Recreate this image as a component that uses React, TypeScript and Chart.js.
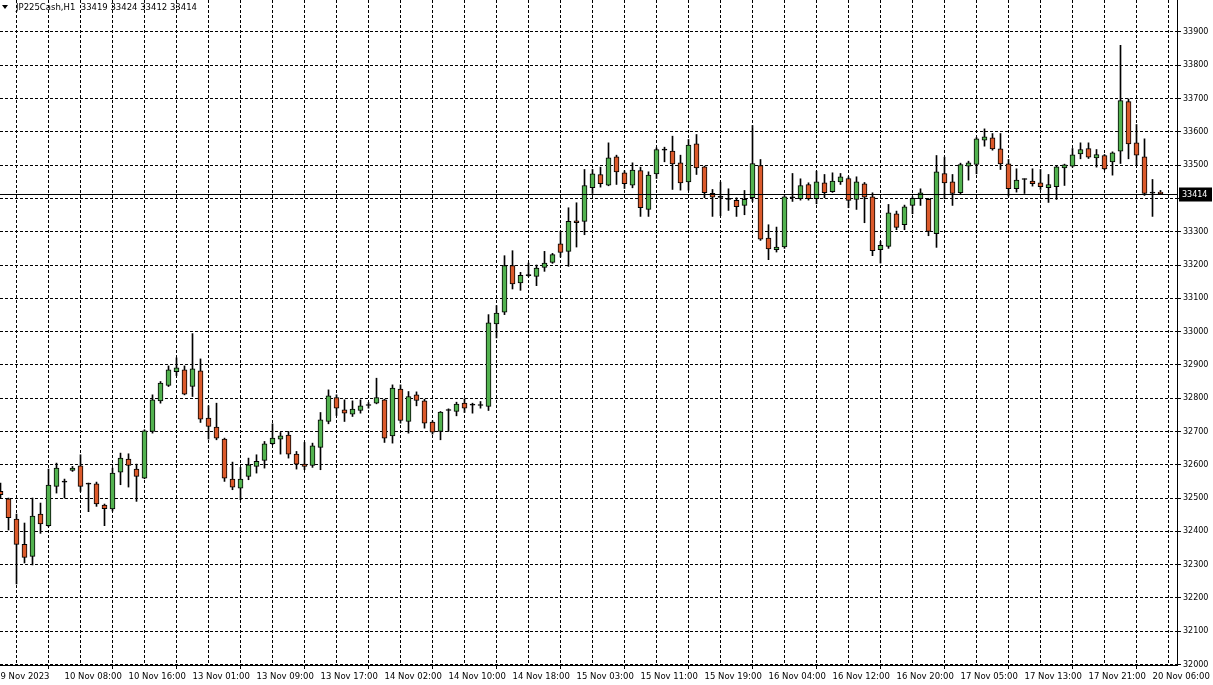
import React, { useEffect, useRef } from 'react';
import { Chart, registerables } from 'chart.js';

Chart.register(...registerables);

// ---- Data (JP225Cash, H1) ----
const opens = [
  32520, 32498, 32437, 32361, 32325, 32452, 32417, 32535, 32548, 32583,
  32597, 32542, 32543, 32479, 32467, 32578, 32617, 32587, 32560, 32700,
  32792, 32838, 32880, 32885, 32835, 32882, 32740, 32713, 32677, 32557,
  32530, 32565, 32595, 32613, 32663, 32677, 32689, 32632, 32602, 32598,
  32652, 32730, 32802, 32765, 32752, 32763, 32778, 32785, 32795, 32687,
  32827, 32730, 32810, 32792, 32728, 32700, 32763, 32760, 32785, 32779,
  32778, 32775, 33023, 33058, 33198, 33146, 33168, 33166, 33193, 33208,
  33264, 33241, 33333, 33331, 33432, 33472, 33440, 33525, 33477, 33440,
  33484, 33367, 33474, 33545, 33542, 33507, 33450, 33564, 33495, 33415,
  33403, 33397, 33394, 33379, 33402, 33499, 33281, 33246, 33254, 33402,
  33399, 33442, 33399, 33447, 33420, 33450, 33460, 33397, 33444, 33405,
  33246, 33256, 33354, 33321, 33379, 33399, 33397, 33294, 33475, 33450,
  33417, 33497, 33502, 33575, 33582, 33549, 33504, 33429, 33457, 33452,
  33447, 33432, 33435, 33492, 33497, 33534, 33550, 33522, 33529, 33510,
  33542, 33691, 33567, 33525, 33416, 33419,
];
const highs = [
  32545, 32500, 32452, 32425, 32500, 32485, 32587, 32605, 32557, 32595,
  32630, 32545, 32548, 32482, 32590, 32635, 32633, 32602, 32705, 32810,
  32850, 32897, 32921, 32897, 32994, 32918, 32777, 32785, 32680, 32608,
  32592, 32620, 32630, 32670, 32723, 32697, 32700, 32640, 32667, 32665,
  32757, 32825, 32810, 32795, 32792, 32795, 32787, 32860, 32797, 32840,
  32840, 32820, 32819, 32797, 32732, 32760, 32768, 32788, 32798, 32785,
  32790, 33051, 33078, 33228, 33243, 33178, 33206, 33200, 33241, 33235,
  33301, 33372, 33387, 33487, 33487, 33494, 33567, 33530, 33483, 33507,
  33494, 33480, 33552, 33554, 33587, 33530, 33577, 33592, 33497, 33427,
  33449, 33429, 33402, 33424, 33619, 33517, 33321, 33314, 33408, 33475,
  33459, 33447, 33482, 33472, 33477, 33475, 33465, 33465, 33448, 33417,
  33271, 33382, 33362, 33380, 33405, 33429, 33400, 33529, 33524, 33472,
  33506, 33512, 33583, 33609, 33595, 33595, 33517, 33489, 33459, 33489,
  33487, 33472, 33498, 33503, 33550, 33567, 33567, 33547, 33532, 33540,
  33860, 33699, 33622, 33579, 33457, 33424,
];
const lows = [
  32500, 32404, 32242, 32305, 32299, 32394, 32414, 32515, 32500, 32580,
  32520, 32459, 32475, 32417, 32461, 32540, 32533, 32490, 32558, 32695,
  32785, 32835, 32868, 32810, 32805, 32727, 32677, 32675, 32550, 32525,
  32495, 32555, 32575, 32590, 32660, 32632, 32620, 32587, 32585, 32592,
  32585, 32723, 32748, 32730, 32745, 32755, 32770, 32783, 32667, 32665,
  32725, 32695, 32777, 32710, 32692, 32675, 32700, 32747, 32757, 32755,
  32770, 32763, 32981, 33051, 33128, 33124, 33165, 33138, 33181, 33205,
  33224, 33196, 33254, 33291, 33415, 33434, 33438, 33442, 33430, 33432,
  33346, 33346, 33460, 33510, 33427, 33425, 33425, 33472, 33402, 33346,
  33348, 33364, 33346, 33351, 33391, 33274, 33216, 33239, 33250, 33391,
  33395, 33395, 33384, 33402, 33418, 33442, 33372, 33367, 33327, 33228,
  33206, 33250, 33306, 33306, 33354, 33379, 33288, 33253, 33399, 33379,
  33413, 33455, 33474, 33557, 33545, 33487, 33407, 33419, 33415, 33437,
  33427, 33388, 33397, 33439, 33494, 33519, 33520, 33494, 33486, 33470,
  33505, 33519, 33499, 33409, 33346, 33412,
];
const closes = [
  32510, 32441, 32361, 32322, 32446, 32422, 32539, 32590, 32548, 32590,
  32535, 32542, 32482, 32468, 32575, 32620, 32598, 32565, 32702, 32795,
  32845, 32885, 32891, 32812, 32888, 32737, 32715, 32680, 32560, 32533,
  32557, 32600, 32610, 32663, 32680, 32687, 32632, 32602, 32595, 32657,
  32735, 32807, 32770, 32755, 32767, 32777, 32778, 32802, 32680, 32830,
  32733, 32805, 32793, 32725, 32698, 32758, 32763, 32782, 32770, 32779,
  32778, 33026, 33056, 33198, 33143, 33169, 33168, 33191, 33206, 33231,
  33238, 33331, 33327, 33439, 33474, 33444, 33522, 33480, 33444, 33485,
  33372, 33470, 33547, 33545, 33504, 33447, 33560, 33492, 33417, 33404,
  33403, 33397, 33375, 33397, 33505, 33278, 33248, 33254, 33405, 33402,
  33439, 33399, 33450, 33417, 33452, 33465, 33394, 33450, 33404, 33243,
  33259, 33357, 33313, 33375, 33400, 33417, 33301, 33480, 33447, 33415,
  33502, 33507, 33579, 33585, 33549, 33504, 33429, 33455, 33457, 33444,
  33435, 33442, 33495, 33501, 33531, 33547, 33524, 33532, 33489, 33537,
  33694, 33564, 33530, 33415, 33416, 33414,
];

// time axis labels, one every 8 hourly bars
const timeTickLabels = [
  '9 Nov 2023', '10 Nov 08:00', '10 Nov 16:00', '13 Nov 01:00', '13 Nov 09:00',
  '13 Nov 17:00', '14 Nov 02:00', '14 Nov 10:00', '14 Nov 18:00', '15 Nov 03:00',
  '15 Nov 11:00', '15 Nov 19:00', '16 Nov 04:00', '16 Nov 12:00', '16 Nov 20:00',
  '17 Nov 05:00', '17 Nov 13:00', '17 Nov 21:00', '20 Nov 06:00',
];
const priceTickLabels = [
  32000, 32100, 32200, 32300, 32400, 32500, 32600, 32700, 32800, 32900,
  33000, 33100, 33200, 33300, 33400, 33500, 33600, 33700, 33800, 33900,
];
const symbolTitle = 'JP225Cash,H1';

const GREEN = '#52b24f';
const RED = '#db5a2b';
const FONT = '"DejaVu Sans", Tahoma, sans-serif';

export default function App() {
  const ref = useRef<HTMLCanvasElement | null>(null);

  useEffect(() => {
    document.body.style.margin = '0';
    const canvas = ref.current;
    if (!canvas) return;
    const idx = opens.map((_, i) => i);
    const bodyColors = idx.map((i) =>
      closes[i] > opens[i] ? GREEN : closes[i] < opens[i] ? RED : '#000000'
    );
    const last = opens.length - 1;
    const gridIdx: number[] = [];
    for (let v = 0; v <= last; v += 4) gridIdx.push(v);

    const overlay = {
      id: 'mtOverlay',
      afterDraw(chart: any) {
        const { ctx, chartArea, scales } = chart;
        const y = scales.y;
        const lastClose = closes[last];
        const py = Math.round(y.getPixelForValue(lastClose)) + 0.5;
        ctx.save();
        // current price line
        ctx.strokeStyle = '#000';
        ctx.lineWidth = 1;
        ctx.beginPath();
        ctx.moveTo(chartArea.left, py);
        ctx.lineTo(chartArea.right, py);
        ctx.stroke();
        // price label box
        ctx.fillStyle = '#000';
        ctx.fillRect(chartArea.right + 2, py - 7, 33, 14);
        ctx.fillStyle = '#fff';
        ctx.font = `8px ${FONT}`;
        ctx.textBaseline = 'middle';
        ctx.textAlign = 'left';
        ctx.fillText(String(lastClose), chartArea.right + 5, py);
        // title
        ctx.fillStyle = '#000';
        ctx.beginPath();
        ctx.moveTo(2, 5);
        ctx.lineTo(8, 5);
        ctx.lineTo(5, 9);
        ctx.closePath();
        ctx.fill();
        ctx.font = `8.5px ${FONT}`;
        ctx.textBaseline = 'middle';
        ctx.textAlign = 'left';
        ctx.fillText(
          `${symbolTitle}  ${opens[last]} ${highs[last]} ${lows[last]} ${closes[last]}`,
          16,
          8
        );
        ctx.restore();
      },
    };

    const chart = new Chart(canvas, {
      type: 'bar',
      data: {
        datasets: [
          {
            label: 'body',
            data: idx.map((i) => ({ x: i, y: [opens[i], closes[i]] })) as any,
            backgroundColor: bodyColors,
            borderColor: '#000000',
            borderWidth: 1,
            borderSkipped: false,
            barThickness: 5,
            minBarLength: 1,
            grouped: false,
            order: 0,
          } as any,
          {
            label: 'wick',
            data: idx.map((i) => ({ x: i, y: [lows[i], highs[i]] })) as any,
            backgroundColor: '#000000',
            borderWidth: 0,
            barThickness: 1,
            grouped: false,
            order: 1,
          } as any,
        ],
      },
      options: {
        responsive: false,
        maintainAspectRatio: false,
        animation: false,
        layout: { padding: 0 },
        plugins: {
          legend: { display: false },
          tooltip: { enabled: false },
          title: { display: false },
        },
        scales: {
          x: {
            type: 'linear',
            position: 'bottom',
            min: -0.0625,
            max: 147.0625,
            offset: false,
            afterBuildTicks: (s: any) => {
              s.ticks = gridIdx.map((v) => ({ value: v }));
            },
            afterFit: (s: any) => {
              s.height = 20;
              s.paddingLeft = 0;
              s.paddingRight = 0;
            },
            grid: {
              color: '#000000',
              lineWidth: 1,
              drawTicks: true,
              tickLength: 4,
              tickColor: (c: any) => (c.tick && c.tick.value % 8 === 0 ? '#000000' : 'rgba(0,0,0,0)'),
            },
            border: { display: true, color: '#000000', width: 1, dash: [3, 2] },
            ticks: {
              autoSkip: false,
              maxRotation: 0,
              minRotation: 0,
              align: 'start',
              padding: 3,
              color: '#000000',
              font: { family: FONT, size: 8.5 },
              callback: (v: any) => (v % 8 === 0 ? timeTickLabels[v / 8] ?? '' : ''),
            },
          } as any,
          y: {
            type: 'linear',
            position: 'right',
            min: 31998.5,
            max: 33996.1,
            afterBuildTicks: (s: any) => {
              s.ticks = priceTickLabels.map((v) => ({ value: v }));
            },
            afterFit: (s: any) => {
              s.width = 36;
              s.paddingTop = 0;
              s.paddingBottom = 0;
            },
            grid: {
              color: '#000000',
              lineWidth: 1,
              drawTicks: true,
              tickLength: 4,
              tickColor: '#000000',
            },
            border: { display: true, color: '#000000', width: 1, dash: [3, 2] },
            ticks: {
              autoSkip: false,
              padding: 2,
              color: '#000000',
              font: { family: FONT, size: 8 },
              callback: (v: any) => String(v),
            },
          } as any,
        },
      } as any,
      plugins: [overlay],
    });
    return () => chart.destroy();
  }, []);

  return (
    <div style={{ position: 'absolute', left: 0, top: 0, width: 1213, height: 685, background: '#fff' }}>
      <canvas ref={ref} width={1213} height={685} style={{ width: 1213, height: 685, display: 'block' }} />
    </div>
  );
}
